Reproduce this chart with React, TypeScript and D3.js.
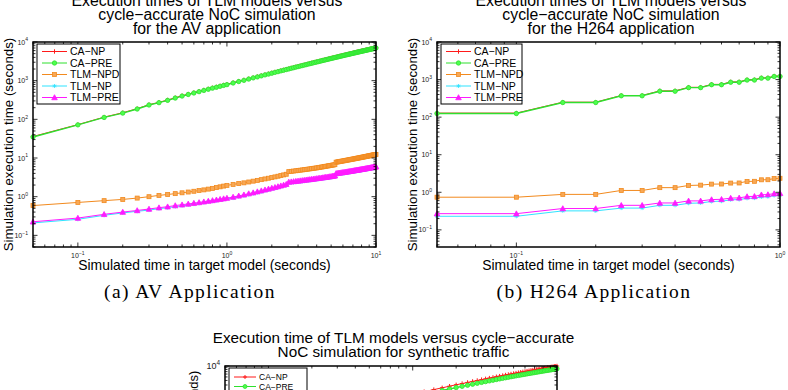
import React from 'react';
import * as d3 from 'd3';

// Simulated time grid (seconds) for the AV application runs
const AV_X = [
  0.05, 0.1, 0.15, 0.2, 0.25, 0.3, 0.35, 0.4, 0.45, 0.5,
  0.55, 0.6, 0.65, 0.7, 0.75, 0.8, 0.85, 0.9, 0.95, 1,
  1.1, 1.2, 1.3, 1.4, 1.5, 1.6, 1.7, 1.8, 1.9, 2,
  2.1, 2.2, 2.3, 2.4, 2.5, 2.6, 2.7, 2.8, 2.9, 3,
  3.1, 3.2, 3.3, 3.4, 3.5, 3.6, 3.7, 3.8, 3.9, 4,
  4.1, 4.2, 4.3, 4.4, 4.5, 4.6, 4.7, 4.8, 4.9, 5,
  5.1, 5.2, 5.3, 5.4, 5.5, 5.6, 5.7, 5.8, 5.9, 6,
  6.1, 6.2, 6.3, 6.4, 6.5, 6.6, 6.7, 6.8, 6.9, 7,
  7.1, 7.2, 7.3, 7.4, 7.5, 7.6, 7.7, 7.8, 7.9, 8,
  8.1, 8.2, 8.3, 8.4, 8.5, 8.6, 8.7, 8.8, 8.9, 9,
  9.1, 9.2, 9.3, 9.4, 9.5, 9.6, 9.7, 9.8, 9.9, 10,
];

const AV_CA_NP = [
  36, 73, 114, 148, 189, 239, 275, 316, 362, 408,
  449, 490, 530, 571, 612, 653, 689, 729, 770, 806,
  890, 970, 1040, 1120, 1200, 1280, 1360, 1440, 1510, 1590,
  1670, 1740, 1830, 1900, 1980, 2050, 2130, 2200, 2280, 2360,
  2430, 2510, 2580, 2650, 2730, 2810, 2880, 2960, 3030, 3100,
  3170, 3240, 3330, 3400, 3470, 3540, 3610, 3680, 3750, 3830,
  3900, 3970, 4040, 4110, 4180, 4250, 4320, 4390, 4460, 4530,
  4600, 4670, 4730, 4800, 4880, 4940, 5010, 5080, 5140, 5210,
  5280, 5340, 5420, 5480, 5550, 5610, 5680, 5740, 5810, 5880,
  5940, 6010, 6070, 6130, 6200, 6260, 6320, 6400, 6460, 6520,
  6580, 6640, 6710, 6770, 6830, 6900, 6960, 7020, 7080, 7140,
];

const AV_CA_PRE = [
  35, 72, 112, 145, 185, 235, 270, 310, 355, 400,
  440, 480, 520, 560, 600, 640, 675, 715, 755, 790,
  870, 950, 1020, 1100, 1180, 1250, 1330, 1410, 1480, 1560,
  1640, 1710, 1790, 1860, 1940, 2010, 2090, 2160, 2240, 2310,
  2380, 2460, 2530, 2600, 2680, 2750, 2820, 2900, 2970, 3040,
  3110, 3180, 3260, 3330, 3400, 3470, 3540, 3610, 3680, 3750,
  3820, 3890, 3960, 4030, 4100, 4170, 4240, 4300, 4370, 4440,
  4510, 4580, 4640, 4710, 4780, 4840, 4910, 4980, 5040, 5110,
  5180, 5240, 5310, 5370, 5440, 5500, 5570, 5630, 5700, 5760,
  5820, 5890, 5950, 6010, 6080, 6140, 6200, 6270, 6330, 6390,
  6450, 6510, 6580, 6640, 6700, 6760, 6820, 6880, 6940, 7000,
];

const AV_TLM_NPD = [
  0.59, 0.71, 0.79, 0.85, 0.92, 1.0, 1.08, 1.14, 1.2, 1.26,
  1.32, 1.38, 1.44, 1.5, 1.57, 1.64, 1.72, 1.8, 1.88, 1.96,
  2.08, 2.18, 2.28, 2.4, 2.52, 2.64, 2.76, 2.88, 3.0, 3.12,
  3.25, 3.38, 3.52, 3.66, 3.8, 4.45, 4.52, 4.6, 4.68, 4.76,
  4.84, 4.92, 5.0, 5.08, 5.16, 5.24, 5.32, 5.4, 5.48, 5.56,
  5.65, 5.74, 5.83, 5.92, 6.01, 6.1, 6.19, 6.28, 6.37, 6.46,
  6.55, 6.64, 6.73, 7.8, 7.9, 8.0, 8.1, 8.2, 8.3, 8.4,
  8.5, 8.6, 8.7, 8.8, 8.9, 9.0, 9.1, 9.2, 9.3, 9.4,
  9.5, 9.6, 9.7, 9.8, 9.9, 10.0, 10.1, 10.2, 10.3, 10.4,
  10.5, 10.6, 10.7, 10.8, 10.9, 11.0, 11.1, 11.2, 11.3, 11.4,
  11.5, 11.6, 11.7, 11.8, 11.9, 12.0, 12.1, 12.2, 12.3, 12.4,
];

const AV_TLM_NP = [
  0.21, 0.26, 0.33, 0.38, 0.42, 0.45, 0.49, 0.52, 0.55, 0.58,
  0.61, 0.64, 0.67, 0.7, 0.73, 0.76, 0.79, 0.82, 0.85, 0.88,
  0.92, 0.99, 1.05, 1.13, 1.19, 1.27, 1.34, 1.42, 1.49, 1.57,
  1.65, 1.72, 1.8, 1.89, 1.97, 2.26, 2.3, 2.33, 2.37, 2.41,
  2.44, 2.48, 2.52, 2.56, 2.59, 2.63, 2.67, 2.71, 2.74, 2.78,
  2.82, 2.86, 2.9, 2.93, 2.97, 3.01, 3.05, 3.08, 3.12, 3.16,
  3.2, 3.23, 3.27, 3.76, 3.8, 3.84, 3.88, 3.92, 3.96, 4.0,
  4.04, 4.08, 4.13, 4.16, 4.2, 4.25, 4.29, 4.32, 4.37, 4.41,
  4.45, 4.49, 4.53, 4.57, 4.62, 4.65, 4.69, 4.74, 4.78, 4.81,
  4.86, 4.9, 4.94, 4.98, 5.02, 5.06, 5.1, 5.14, 5.18, 5.23,
  5.26, 5.3, 5.35, 5.39, 5.42, 5.47, 5.51, 5.55, 5.59, 5.64,
];

const AV_TLM_PRE = [
  0.225, 0.28, 0.35, 0.4, 0.44, 0.48, 0.52, 0.55, 0.59, 0.62,
  0.65, 0.68, 0.71, 0.74, 0.77, 0.8, 0.83, 0.86, 0.89, 0.92,
  0.98, 1.05, 1.12, 1.2, 1.27, 1.35, 1.43, 1.51, 1.59, 1.67,
  1.75, 1.83, 1.92, 2.01, 2.1, 2.4, 2.44, 2.48, 2.52, 2.56,
  2.6, 2.64, 2.68, 2.72, 2.76, 2.8, 2.84, 2.88, 2.92, 2.96,
  3.0, 3.04, 3.08, 3.12, 3.16, 3.2, 3.24, 3.28, 3.32, 3.36,
  3.4, 3.44, 3.48, 4.0, 4.04, 4.08, 4.13, 4.17, 4.21, 4.26,
  4.3, 4.34, 4.39, 4.43, 4.47, 4.52, 4.56, 4.6, 4.65, 4.69,
  4.73, 4.78, 4.82, 4.86, 4.91, 4.95, 4.99, 5.04, 5.08, 5.12,
  5.17, 5.21, 5.25, 5.3, 5.34, 5.38, 5.43, 5.47, 5.51, 5.56,
  5.6, 5.64, 5.69, 5.73, 5.77, 5.82, 5.86, 5.9, 5.95, 6.0,
];

// H264 application runs
const H264_X = [
  0.05, 0.1, 0.15, 0.2, 0.25, 0.3, 0.35, 0.4, 0.45, 0.5,
  0.55, 0.6, 0.65, 0.7, 0.75, 0.8, 0.85, 0.9, 0.95, 1,
];
const H264_CA_NP = [128, 128, 250, 250, 377, 377, 500, 500, 622, 622, 745, 745, 867, 867, 990, 990, 1110, 1110, 1235, 1235];
const H264_CA_PRE = [125, 125, 245, 245, 370, 370, 490, 490, 610, 610, 730, 730, 850, 850, 970, 970, 1090, 1090, 1210, 1210];
const H264_TLM_NPD = [0.74, 0.74, 0.88, 0.88, 1.12, 1.12, 1.33, 1.33, 1.52, 1.55, 1.65, 1.66, 1.76, 1.77, 1.95, 1.96, 2.15, 2.16, 2.32, 2.36];
const H264_TLM_NP = [0.23, 0.23, 0.32, 0.32, 0.38, 0.38, 0.45, 0.45, 0.51, 0.52, 0.57, 0.58, 0.63, 0.64, 0.69, 0.7, 0.75, 0.76, 0.82, 0.84];
const H264_TLM_PRE = [0.27, 0.27, 0.37, 0.37, 0.45, 0.45, 0.52, 0.52, 0.59, 0.59, 0.64, 0.65, 0.7, 0.71, 0.77, 0.78, 0.86, 0.87, 0.92, 0.94];

// Synthetic traffic runs
const SYN_X = [
  0.05, 0.1, 0.2, 0.4, 0.6, 0.8,
  1, 1.2, 1.4, 1.6, 1.8, 2, 2.2, 2.4, 2.6, 2.8,
  3, 3.2, 3.4, 3.6, 3.8, 4, 4.2, 4.4, 4.6, 4.8,
  5, 5.2, 5.4, 5.6, 5.8, 6, 6.2, 6.4, 6.6, 6.8,
  7, 7.2, 7.4, 7.6, 7.8, 8, 8.2, 8.4, 8.6, 8.8,
  9, 9.2, 9.4, 9.6, 9.8, 10,
];
const SYN_CA_NP = [
  65, 150, 330, 690, 1030, 1350,
  1660, 1960, 2240, 2510, 2780, 3040, 3280, 3530, 3760, 3990,
  4210, 4430, 4650, 4850, 5060, 5260, 5450, 5650, 5830, 6020,
  6200, 6380, 6560, 6730, 6900, 7070, 7230, 7400, 7560, 7720,
  7870, 8030, 8180, 8330, 8480, 8630, 8770, 8920, 9050, 9190,
  9330, 9470, 9600, 9740, 9870, 10000,
];
const SYN_CA_PRE = [
  55, 126, 277, 580, 865, 1135,
  1390, 1640, 1880, 2110, 2330, 2550, 2760, 2960, 3160, 3350,
  3540, 3720, 3900, 4070, 4250, 4420, 4580, 4750, 4900, 5060,
  5210, 5360, 5510, 5650, 5800, 5940, 6070, 6220, 6350, 6480,
  6610, 6750, 6870, 7000, 7120, 7250, 7370, 7490, 7600, 7720,
  7840, 7950, 8070, 8180, 8290, 8400,
];

const FONT = '"Liberation Sans", Arial, Helvetica, sans-serif';
const SERIF = '"Liberation Serif", "Times New Roman", serif';
const MINUS = '\u2212';

type Mark = 'plus' | 'circle' | 'square' | 'star' | 'triangle';
interface SeriesStyle {
  key: string;
  label: string;
  color: string;
  fill: string;
  width: number;
  mark: Mark;
  size: number;
}

const STYLES: SeriesStyle[] = [
  { key: 'caNp', label: `CA${MINUS}NP`, color: '#ff1a1a', fill: '#ff1a1a', width: 1, mark: 'plus', size: 2.2 },
  { key: 'caPre', label: `CA${MINUS}PRE`, color: '#2ee02e', fill: '#4dff4d', width: 1.4, mark: 'circle', size: 2.2 },
  { key: 'tlmNpd', label: `TLM${MINUS}NPD`, color: '#f28a1e', fill: '#f7a856', width: 1, mark: 'square', size: 2 },
  { key: 'tlmNp', label: `TLM${MINUS}NP`, color: '#2fe3ff', fill: '#2fe3ff', width: 1, mark: 'star', size: 2 },
  { key: 'tlmPre', label: `TLM${MINUS}PRE`, color: '#ff1aff', fill: '#ff1aff', width: 1, mark: 'triangle', size: 2.8 },
];

function Marker({ st, x, y, k = 1 }: { st: SeriesStyle; x: number; y: number; k?: number }) {
  const s = st.size * k;
  switch (st.mark) {
    case 'plus':
      return <path d={`M${x - s},${y}H${x + s}M${x},${y - s}V${y + s}`} stroke={st.color} strokeWidth={1} />;
    case 'circle':
      return <circle cx={x} cy={y} r={s} fill={st.fill} stroke={st.color} strokeWidth={0.8} />;
    case 'square':
      return <rect x={x - s} y={y - s} width={2 * s} height={2 * s} fill={st.fill} stroke={st.color} strokeWidth={0.8} />;
    case 'star': {
      const d = s * 0.7;
      return (
        <path
          d={`M${x - s},${y}H${x + s}M${x},${y - s}V${y + s}M${x - d},${y - d}L${x + d},${y + d}M${x - d},${y + d}L${x + d},${y - d}`}
          stroke={st.color}
          strokeWidth={0.8}
        />
      );
    }
    default:
      return <path d={`M${x},${y - s}L${x + s},${y + s * 0.8}L${x - s},${y + s * 0.8}Z`} fill={st.fill} stroke={st.color} strokeWidth={0.8} />;
  }
}

interface LegendCfg { w: number; h: number; first: number; row: number; line: number; textDx: number; font: number; k: number }

interface PanelProps {
  x0: number; x1: number; y0: number; y1: number;
  xDomain: [number, number];
  yDomain: [number, number];
  xs: number[];
  data: Record<string, number[]>;
  title: string[];
  titleY: number[];
  titleSize: number;
  xLabel: string;
  xLabelY: number;
  yLabel: string;
  yLabelX: number;
  labelSize: number;
  yLabelSize: number;
  tickFont: number;
  legend: LegendCfg;
}

const isDecade = (v: number) => Math.abs(Math.log10(v) - Math.round(Math.log10(v))) < 1e-6;
const expText = (v: number) => {
  const e = Math.round(Math.log10(v));
  return e < 0 ? `${MINUS}${-e}` : `${e}`;
};

function Panel(p: PanelProps) {
  const x = d3.scaleLog().domain(p.xDomain).range([p.x0, p.x1]);
  const y = d3.scaleLog().domain(p.yDomain).range([p.y1, p.y0]);
  const line = d3.line<[number, number]>().x(d => x(d[0])).y(d => y(d[1]));
  const xt = x.ticks();
  const yt = y.ticks();
  const major = 4.5;
  const minor = 2.5;
  const cx = (p.x0 + p.x1) / 2;
  const cy = (p.y0 + p.y1) / 2;
  const lg = p.legend;
  const lx = p.x0 + 4;
  const ly = p.y0 + 2;
  const supSize = p.tickFont * 0.72;

  return (
    <g>
      {p.title.map((t, i) => (
        <text key={i} x={cx + 2.5} y={p.titleY[i]} textAnchor="middle" fontFamily={FONT} fontSize={p.titleSize}>{t}</text>
      ))}

      {STYLES.map(st => {
        const ys = p.data[st.key];
        if (!ys) return null;
        const pts: [number, number][] = p.xs.slice(0, ys.length).map((v, i) => [v, ys[i]]);
        return (
          <g key={st.key}>
            <path d={line(pts) ?? ''} fill="none" stroke={st.color} strokeWidth={st.width} />
            {pts.map((d, i) => <Marker key={i} st={st} x={x(d[0])} y={y(d[1])} />)}
          </g>
        );
      })}

      {xt.map((v, i) => {
        const len = isDecade(v) ? major : minor;
        const px = x(v);
        return (
          <g key={`x${i}`}>
            <line x1={px} x2={px} y1={p.y1} y2={p.y1 - len} stroke="#000" strokeWidth={0.8} />
            <line x1={px} x2={px} y1={p.y0} y2={p.y0 + len} stroke="#000" strokeWidth={0.8} />
            {isDecade(v) && (
              <text x={px} y={p.y1 + p.tickFont + 4} textAnchor="middle" fontFamily={FONT} fontSize={p.tickFont} fill="#222">
                10<tspan fontSize={supSize} dy={-p.tickFont * 0.45}>{expText(v)}</tspan>
              </text>
            )}
          </g>
        );
      })}
      {yt.map((v, i) => {
        const len = isDecade(v) ? major : minor;
        const py = y(v);
        return (
          <g key={`y${i}`}>
            <line x1={p.x0} x2={p.x0 + len} y1={py} y2={py} stroke="#000" strokeWidth={0.8} />
            <line x1={p.x1} x2={p.x1 - len} y1={py} y2={py} stroke="#000" strokeWidth={0.8} />
            {isDecade(v) && (
              <text x={p.x0 - 5} y={py + p.tickFont * 0.36} textAnchor="end" fontFamily={FONT} fontSize={p.tickFont} fill="#222">
                10<tspan fontSize={supSize} dy={-p.tickFont * 0.45}>{expText(v)}</tspan>
              </text>
            )}
          </g>
        );
      })}
      <rect x={p.x0} y={p.y0} width={p.x1 - p.x0} height={p.y1 - p.y0} fill="none" stroke="#000" strokeWidth={1.5} />

      <text x={cx} y={p.xLabelY} textAnchor="middle" fontFamily={FONT} fontSize={p.labelSize}>{p.xLabel}</text>
      <text transform={`translate(${p.yLabelX},${cy}) rotate(-90)`} textAnchor="middle" fontFamily={FONT} fontSize={p.yLabelSize}>{p.yLabel}</text>

      <g>
        <rect x={lx} y={ly} width={lg.w} height={lg.h} fill="#fff" stroke="#000" strokeWidth={1} />
        {STYLES.map((st, i) => {
          const ry = ly + lg.first + i * lg.row;
          return (
            <g key={st.key}>
              <line x1={lx + 5} x2={lx + 5 + lg.line} y1={ry} y2={ry} stroke={st.color} strokeWidth={1} />
              <Marker st={st} x={lx + 5 + lg.line / 2} y={ry} k={lg.k} />
              <text x={lx + lg.textDx} y={ry + lg.font * 0.37} fontFamily={FONT} fontSize={lg.font}>{st.label}</text>
            </g>
          );
        })}
      </g>
    </g>
  );
}

const TOP_LEGEND: LegendCfg = { w: 83, h: 60, first: 7.5, row: 11.5, line: 25, textDx: 33, font: 10.5, k: 1 };
const X_LABEL = 'Simulated time in target model (seconds)';
const Y_LABEL = 'Simulation execution time (seconds)';

export default function App() {
  return (
    <svg width={788} height={390} style={{ position: 'absolute', left: 0, top: 0, background: '#fff' }}>
      <Panel
        x0={33} x1={376} y0={42} y1={247}
        xDomain={[0.05, 10]} yDomain={[0.05, 1e4]}
        xs={AV_X}
        data={{ caNp: AV_CA_NP, caPre: AV_CA_PRE, tlmNpd: AV_TLM_NPD, tlmNp: AV_TLM_NP, tlmPre: AV_TLM_PRE }}
        title={['Execution times of TLM models versus', `cycle${MINUS}accurate NoC simulation`, 'for the AV application']}
        titleY={[5.7, 20, 34.3]} titleSize={15.8}
        xLabel={X_LABEL} xLabelY={269.5}
        yLabel={Y_LABEL} yLabelX={12.5}
        labelSize={13.9} yLabelSize={13.3} tickFont={7}
        legend={TOP_LEGEND}
      />
      <Panel
        x0={437} x1={780} y0={42} y1={247}
        xDomain={[0.05, 1]} yDomain={[0.035, 1e4]}
        xs={H264_X}
        data={{ caNp: H264_CA_NP, caPre: H264_CA_PRE, tlmNpd: H264_TLM_NPD, tlmNp: H264_TLM_NP, tlmPre: H264_TLM_PRE }}
        title={['Execution times of TLM models versus', `cycle${MINUS}accurate NoC simulation`, 'for the H264 application']}
        titleY={[5.7, 20, 34.3]} titleSize={15.8}
        xLabel={X_LABEL} xLabelY={269.5}
        yLabel={Y_LABEL} yLabelX={416.5}
        labelSize={13.9} yLabelSize={13.3} tickFont={7}
        legend={{ ...TOP_LEGEND, w: 81 }}
      />
      <text x={190} y={298} textAnchor="middle" fontFamily={SERIF} fontSize={19.5} letterSpacing={1.4}>(a) AV Application</text>
      <text x={594} y={298} textAnchor="middle" fontFamily={SERIF} fontSize={19.5} letterSpacing={1.4}>(b) H264 Application</text>
      <Panel
        x0={225} x1={557} y0={366} y1={584}
        xDomain={[0.05, 10]} yDomain={[0.01, 1e4]}
        xs={SYN_X}
        data={{ caNp: SYN_CA_NP, caPre: SYN_CA_PRE }}
        title={[`Execution time of TLM models versus cycle${MINUS}accurate`, 'NoC simulation for synthetic traffic']}
        titleY={[343.3, 356.7]} titleSize={15.3}
        xLabel={X_LABEL} xLabelY={610}
        yLabel={Y_LABEL} yLabelX={198}
        labelSize={13} yLabelSize={13} tickFont={9}
        legend={{ w: 78, h: 52, first: 9, row: 9.5, line: 22, textDx: 30, font: 8.5, k: 0.9 }}
      />
    </svg>
  );
}
